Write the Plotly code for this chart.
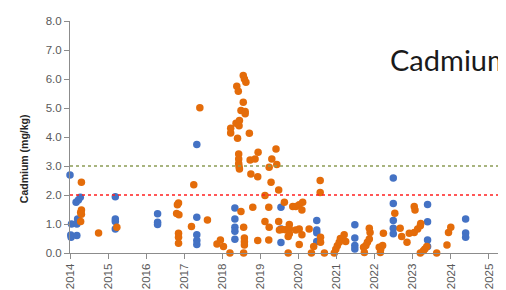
import plotly.graph_objects as go

# ---- data (decimal year, Cd mg/kg) ----
blue_x = [2014.0, 2014.04, 2014.02, 2014.03, 2014.18, 2014.18, 2014.2, 2014.16, 2014.22, 2014.27,
          2015.19, 2015.19, 2015.19, 2015.19,
          2016.3, 2016.3, 2016.3,
          2017.33, 2017.33, 2017.33, 2017.33, 2017.33,
          2018.33, 2018.33, 2018.33, 2018.33, 2018.33,
          2019.54, 2019.54, 2019.54,
          2020.48, 2020.48, 2020.48, 2020.48,
          2021.48, 2021.48, 2021.48, 2021.48,
          2022.49, 2022.49, 2022.49, 2022.49, 2022.49,
          2023.39, 2023.39, 2023.39, 2023.39,
          2024.39, 2024.39, 2024.39]
blue_y = [2.69, 1.0, 0.62, 0.54, 0.60, 1.0, 1.17, 1.75, 1.83, 1.92,
          1.94, 1.17, 1.09, 0.83,
          1.35, 1.06, 0.98,
          3.74, 1.23, 0.63, 0.43, 0.29,
          1.55, 1.17, 0.89, 0.75, 0.47,
          1.58, 0.83, 0.36,
          1.12, 0.79, 0.70, 0.40,
          0.97, 0.52, 0.26, 0.14,
          2.59, 1.71, 1.12, 0.85, 0.66,
          1.67, 1.08, 0.45, 0.22,
          1.17, 0.69, 0.54]

orange_x = [2014.3, 2014.3, 2014.28, 2014.3, 2014.28,
            2014.75, 2015.23,
            2016.85, 2016.82, 2016.8, 2016.86, 2016.85, 2016.85, 2016.85,
            2017.19, 2017.25, 2017.41, 2017.61, 2017.86, 2017.95, 2018.03, 2018.2,
            2018.22, 2018.22, 2018.36, 2018.38, 2018.4, 2018.42, 2018.45, 2018.44, 2018.49, 2018.49,
            2018.55, 2018.55, 2018.58, 2018.62, 2018.6, 2018.6, 2018.71,
            2018.43, 2018.43, 2018.43, 2018.44, 2018.45,
            2018.56, 2018.58, 2018.58, 2018.58, 2018.56,
            2018.73, 2018.75, 2018.8, 2018.86, 2018.93, 2018.93, 2018.94,
            2019.12, 2019.12, 2019.22, 2019.22, 2019.23, 2019.23, 2019.28, 2019.3, 2019.41, 2019.43,
            2019.48, 2019.48, 2019.63, 2019.5, 2019.57, 2019.66,
            2019.76, 2019.76, 2019.76, 2019.73, 2019.73,
            2019.85, 2019.93, 2019.93, 2020.02, 2020.02, 2020.02, 2020.11, 2020.09, 2020.09,
            2020.28, 2020.34, 2020.4, 2020.58, 2020.58, 2020.57, 2020.57, 2020.68,
            2020.94, 2020.98, 2021.02, 2021.07, 2021.1, 2021.2, 2021.24,
            2021.71, 2021.73, 2021.77, 2021.81, 2021.86, 2021.86, 2021.88,
            2022.12, 2022.15, 2022.16, 2022.21, 2022.23,
            2022.53, 2022.67, 2022.71, 2022.85, 2022.91,
            2023.04, 2023.04, 2023.06, 2023.13, 2023.2, 2023.2, 2023.21,
            2023.28, 2023.32, 2023.37, 2023.63, 2023.9, 2023.94, 2024.0]
orange_y = [2.44, 1.48, 1.40, 1.34, 1.09,
            0.69, 0.89,
            1.72, 1.66, 1.36, 1.32, 0.68, 0.54, 0.34,
            0.91, 2.35, 5.01, 1.14, 0.31, 0.45, 0.22, 0.0,
            4.30, 4.14, 4.47, 5.75, 3.96, 5.58, 4.57, 4.39, 4.91, 1.43,
            6.12, 5.20, 6.00, 5.89, 4.88, 4.80, 4.13,
            3.41, 3.24, 3.09, 2.98, 2.90,
            0.89, 0.52, 0.39, 0.28, 0.0,
            3.21, 2.72, 1.58, 3.24, 2.63, 0.43, 3.47,
            1.98, 1.09, 1.58, 0.45, 0.89, 2.96, 2.44, 3.24, 3.59, 3.05,
            2.17, 1.09, 1.75, 0.79, 0.81, 0.80,
            0.98, 0.83, 0.66, 0.57, 0.0,
            1.60, 1.60, 0.79, 1.66, 0.83, 0.29, 1.75, 1.48, 0.63,
            0.83, 0.0, 0.22, 0.54, 0.37, 2.50, 2.09, 0.0,
            0.0, 0.13, 0.25, 0.37, 0.50, 0.63, 0.40,
            0.20, 0.02, 0.26, 0.37, 0.48, 0.85, 0.71,
            0.20, 0.02, 0.14, 0.26, 0.68,
            1.37, 0.85, 0.57, 0.37, 0.68,
            0.71, 1.60, 1.48, 0.83, 0.94, 0.0, 1.02,
            0.08, 0.14, 0.22, 0.0, 0.28, 0.71, 0.89]

year_ticks = list(range(2014, 2026))
year_labels = [str(y) for y in year_ticks]
y_ticks = [0, 1, 2, 3, 4, 5, 6, 7, 8]
threshold_upper = 3.0
threshold_lower = 2.0

BLUE = "#4472C4"
ORANGE = "#E46C0A"

fig = go.Figure()
fig.add_trace(go.Scatter(x=blue_x, y=blue_y, mode="markers",
                         marker=dict(color=BLUE, size=7.5), cliponaxis=False,
                         showlegend=False))
fig.add_trace(go.Scatter(x=orange_x, y=orange_y, mode="markers",
                         marker=dict(color=ORANGE, size=7.5), cliponaxis=False,
                         showlegend=False))

fig.add_shape(type="line", xref="x domain", yref="y", x0=0, x1=1,
              y0=threshold_upper, y1=threshold_upper,
              line=dict(color="#8C9C55", width=1.3, dash="dot"))
fig.add_shape(type="line", xref="x domain", yref="y", x0=0, x1=1,
              y0=threshold_lower, y1=threshold_lower,
              line=dict(color="#FF2020", width=1.3, dash="dot"))

tickfont = dict(family="Liberation Sans, Arial", size=11.5, color="#595959")
fig.update_xaxes(range=[2014, 2025.66], tickvals=year_ticks, ticktext=year_labels,
                 tickangle=-90, ticks="outside", ticklen=5, tickcolor="#8C8C8C",
                 showline=True, linecolor="#8C8C8C", linewidth=1,
                 showgrid=False, zeroline=False, tickfont=tickfont)
fig.update_yaxes(range=[0, 8], tickvals=y_ticks, tickformat=".1f",
                 ticks="outside", ticklen=5, tickcolor="#8C8C8C",
                 showline=True, linecolor="#8C8C8C", linewidth=1,
                 showgrid=False, zeroline=False, tickfont=tickfont)

fig.add_annotation(text="<b>Cadmium (mg/kg)</b>", textangle=-90,
                   xref="paper", yref="paper", x=-0.105, y=0.406,
                   xanchor="center", yanchor="middle", showarrow=False,
                   font=dict(family="Liberation Sans, Arial", size=10.5, color="#262626"))
fig.add_annotation(text="Cadmium", xref="paper", yref="paper",
                   x=0.716, y=0.835, xanchor="left", yanchor="middle",
                   showarrow=False,
                   font=dict(family="Lato", size=29, color="#1a1a1a"))

fig.update_layout(width=506, height=290,
                  margin=dict(l=62, r=0, t=13, b=44.5),
                  paper_bgcolor="white", plot_bgcolor="white")

fig.write_html("out.html")
